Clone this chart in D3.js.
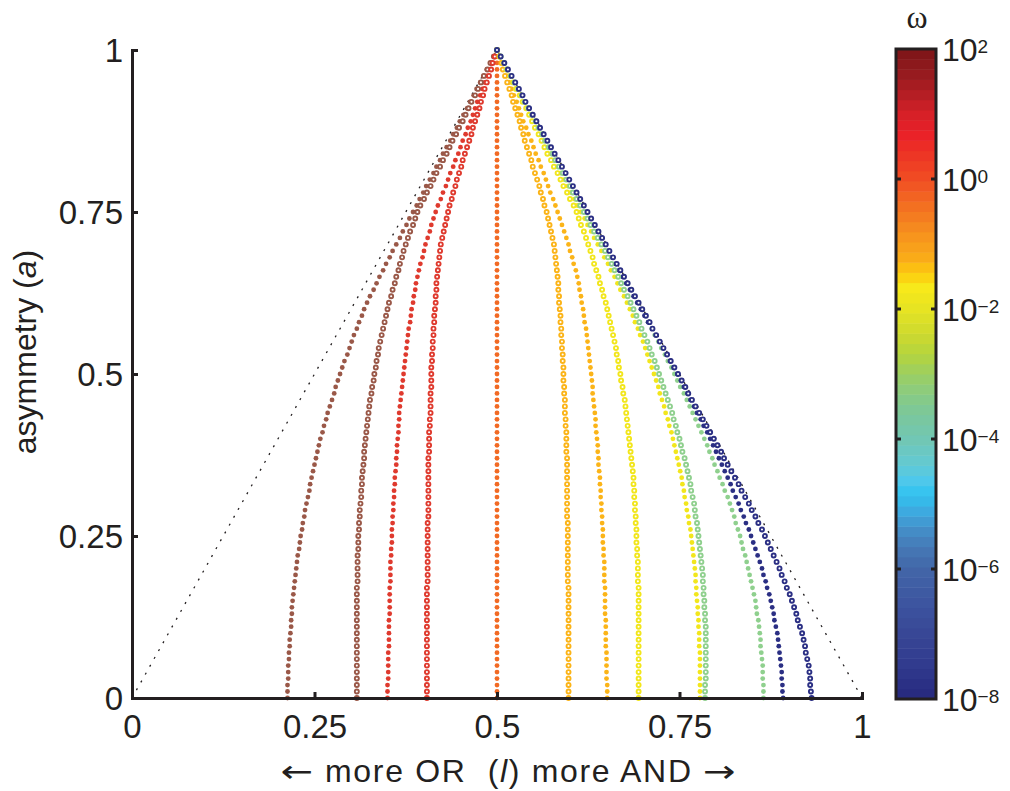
<!DOCTYPE html>
<html>
<head>
<meta charset="utf-8">
<script src="https://cdn.jsdelivr.net/npm/d3@7"></script>
<style>
  body { margin: 0; background: #fff; }
  svg { display: block; font-family: "Liberation Sans", Arial, Helvetica, sans-serif; }
  text { fill: #231f20; }
</style>
</head>
<body>
<svg id="chart" width="1010" height="791"></svg>
<script>
// asymmetry levels shared by every curve
const aLevels = [0,.01,.02,.03,.04,.05,.06,.07,.08,.09,.1,.11,.12,.13,.14,.15,.16,.17,.18,.19,.2,.21,.22,.23,.24,.25,.26,.27,.28,.29,.3,.31,.32,.33,.34,.35,.36,.37,.38,.39,.4,.41,.42,.43,.44,.45,.46,.47,.48,.49,.5,.51,.52,.53,.54,.55,.56,.57,.58,.59,.6,.61,.62,.63,.64,.65,.66,.67,.68,.69,.7,.71,.72,.73,.74,.75,.76,.77,.78,.79,.8,.81,.82,.83,.84,.85,.86,.87,.88,.89,.9,.91,.92,.93,.94,.95,.96,.97,.98,.99,1];

// logic value l for each asymmetry level, filled markers
const w2Filled = [.213,.213,.213,.214,.214,.214,.215,.215,.216,.216,.217,.218,.218,.219,.219,.220,.221,.222,.223,.224,.225,.226,.227,.229,.230,.231,.233,.234,.236,.237,.239,.241,.243,.244,.246,.248,.250,.252,.254,.256,.258,.261,.263,.266,.268,.271,.274,.277,.279,.282,.285,.288,.291,.295,.298,.301,.304,.308,.311,.315,.318,.322,.326,.331,.335,.339,.344,.348,.353,.357,.362,.367,.371,.376,.380,.385,.390,.394,.399,.403,.408,.413,.417,.422,.426,.431,.436,.440,.445,.449,.454,.459,.463,.468,.472,.477,.482,.486,.491,.495,.500];
const w1Filled = [.350,.350,.350,.351,.351,.351,.351,.351,.352,.352,.352,.352,.352,.353,.353,.353,.353,.353,.354,.354,.354,.354,.355,.355,.356,.356,.356,.357,.357,.358,.358,.359,.359,.360,.360,.361,.362,.362,.363,.363,.364,.365,.365,.366,.366,.367,.368,.369,.370,.371,.372,.373,.374,.375,.376,.377,.378,.379,.381,.382,.383,.385,.386,.388,.389,.391,.393,.395,.398,.400,.402,.405,.408,.410,.413,.416,.419,.423,.426,.430,.433,.436,.440,.443,.447,.450,.453,.457,.460,.464,.467,.470,.473,.477,.480,.483,.486,.490,.493,.497,.500];
const w0Filled = [.5,.5,.5,.5,.5,.5,.5,.5,.5,.5,.5,.5,.5,.5,.5,.5,.5,.5,.5,.5,.5,.5,.5,.5,.5,.5,.5,.5,.5,.5,.5,.5,.5,.5,.5,.5,.5,.5,.5,.5,.5,.5,.5,.5,.5,.5,.5,.5,.5,.5,.5,.5,.5,.5,.5,.5,.5,.5,.5,.5,.5,.5,.5,.5,.5,.5,.5,.5,.5,.5,.5,.5,.5,.5,.5,.5,.5,.5,.5,.5,.5,.5,.5,.5,.5,.5,.5,.5,.5,.5,.5,.5,.5,.5,.5,.5,.5,.5,.5,.5,.5];
const wm1Filled = [.651,.651,.651,.650,.650,.650,.650,.650,.649,.649,.649,.649,.649,.648,.648,.648,.648,.648,.647,.647,.647,.647,.646,.646,.645,.645,.645,.644,.644,.643,.643,.642,.642,.641,.641,.640,.639,.639,.638,.638,.637,.636,.635,.635,.634,.633,.632,.631,.631,.630,.629,.628,.627,.626,.625,.624,.623,.622,.620,.619,.618,.616,.615,.613,.612,.610,.608,.605,.603,.600,.598,.595,.592,.589,.586,.583,.580,.577,.573,.570,.567,.564,.560,.557,.553,.550,.547,.543,.540,.536,.533,.530,.527,.523,.520,.517,.514,.510,.507,.503,.500];
const wm2Filled = [.778,.778,.778,.778,.778,.778,.778,.778,.777,.777,.777,.776,.776,.775,.775,.774,.773,.773,.772,.772,.771,.770,.769,.768,.767,.766,.765,.763,.762,.760,.759,.757,.756,.754,.753,.751,.749,.747,.745,.743,.741,.739,.736,.734,.731,.729,.726,.723,.721,.718,.715,.712,.709,.706,.703,.700,.696,.693,.689,.686,.682,.678,.674,.669,.665,.661,.656,.652,.647,.643,.638,.633,.629,.624,.620,.615,.610,.606,.601,.597,.592,.587,.583,.578,.574,.569,.564,.560,.555,.551,.546,.541,.537,.532,.528,.523,.518,.514,.509,.505,.500];
const wm3Filled = [.865,.865,.865,.864,.864,.864,.863,.862,.861,.861,.860,.859,.858,.856,.855,.854,.852,.850,.848,.846,.844,.842,.840,.837,.835,.833,.830,.827,.825,.822,.819,.816,.812,.809,.805,.802,.798,.795,.791,.788,.784,.780,.776,.772,.768,.764,.760,.756,.751,.747,.743,.739,.734,.730,.725,.721,.716,.712,.707,.703,.698,.693,.688,.684,.679,.674,.669,.664,.658,.653,.648,.643,.638,.633,.628,.623,.618,.613,.608,.603,.598,.593,.588,.583,.578,.573,.568,.563,.559,.554,.549,.544,.539,.534,.529,.524,.519,.514,.510,.505,.500];
const wm8Filled = [.892,.891,.891,.890,.890,.889,.888,.887,.886,.885,.884,.882,.880,.879,.877,.875,.873,.870,.868,.865,.863,.860,.857,.854,.851,.848,.845,.841,.838,.834,.831,.827,.823,.820,.816,.812,.808,.804,.800,.796,.792,.788,.783,.779,.774,.770,.765,.761,.756,.752,.747,.742,.737,.733,.728,.723,.718,.713,.707,.702,.697,.692,.687,.682,.677,.672,.667,.662,.657,.652,.647,.642,.637,.632,.627,.622,.617,.612,.607,.602,.597,.592,.587,.582,.577,.572,.567,.562,.557,.552,.547,.542,.537,.532,.527,.522,.518,.513,.509,.504,.500];

// ring markers
const w2Ring = [.308,.308,.308,.308,.308,.308,.308,.308,.308,.308,.308,.308,.308,.308,.308,.308,.308,.308,.309,.309,.309,.309,.309,.310,.310,.310,.311,.311,.312,.312,.313,.314,.314,.315,.315,.316,.317,.318,.318,.319,.320,.321,.322,.323,.324,.325,.326,.328,.329,.331,.332,.334,.335,.337,.338,.340,.342,.344,.346,.348,.350,.352,.355,.357,.360,.362,.365,.367,.370,.372,.375,.378,.381,.385,.388,.391,.395,.400,.404,.409,.413,.417,.422,.426,.431,.435,.439,.444,.448,.453,.457,.461,.465,.470,.474,.478,.482,.487,.491,.496,.500];
const w1Ring = [.404,.404,.404,.404,.404,.404,.404,.404,.404,.404,.404,.404,.404,.404,.404,.404,.404,.404,.405,.405,.405,.405,.405,.405,.405,.405,.405,.405,.406,.406,.406,.406,.406,.406,.406,.406,.406,.406,.407,.407,.407,.407,.408,.408,.409,.409,.409,.409,.410,.410,.410,.410,.411,.411,.412,.412,.413,.413,.414,.414,.415,.416,.416,.417,.417,.418,.419,.420,.421,.422,.423,.425,.427,.429,.431,.433,.435,.438,.440,.443,.445,.448,.451,.453,.456,.459,.462,.465,.467,.470,.473,.476,.478,.481,.483,.486,.489,.492,.494,.497,.500];
const wm1Ring = [.598,.598,.598,.598,.598,.598,.598,.598,.598,.598,.598,.598,.598,.598,.598,.598,.598,.598,.597,.597,.597,.597,.597,.597,.597,.597,.597,.597,.596,.596,.596,.596,.596,.596,.596,.596,.596,.596,.595,.595,.595,.595,.594,.594,.593,.593,.593,.592,.592,.591,.591,.591,.590,.590,.589,.589,.588,.588,.587,.587,.586,.585,.585,.584,.584,.583,.582,.581,.580,.579,.578,.576,.574,.572,.570,.568,.565,.563,.560,.558,.555,.552,.549,.547,.544,.541,.538,.536,.533,.531,.528,.525,.522,.520,.517,.514,.511,.508,.506,.503,.500];
const wm2Ring = [.694,.694,.694,.694,.694,.694,.694,.694,.694,.694,.694,.694,.694,.694,.694,.694,.694,.694,.693,.693,.693,.693,.692,.692,.691,.691,.691,.690,.690,.689,.689,.688,.688,.687,.687,.686,.685,.684,.683,.682,.681,.680,.679,.678,.677,.676,.675,.673,.672,.670,.669,.667,.666,.664,.663,.661,.659,.657,.655,.653,.651,.649,.646,.644,.641,.639,.636,.633,.631,.628,.625,.622,.619,.615,.612,.609,.605,.600,.596,.591,.587,.583,.578,.574,.569,.565,.561,.557,.552,.548,.544,.540,.535,.531,.526,.522,.518,.513,.509,.504,.500];
const wm3Ring = [.785,.785,.785,.786,.786,.786,.786,.786,.786,.786,.786,.786,.785,.785,.784,.784,.783,.783,.782,.782,.781,.780,.779,.778,.777,.776,.775,.774,.772,.771,.770,.768,.766,.765,.763,.761,.759,.757,.754,.752,.750,.747,.745,.742,.740,.737,.734,.731,.728,.725,.722,.719,.716,.712,.709,.706,.702,.698,.695,.691,.687,.683,.679,.674,.670,.666,.661,.657,.652,.648,.643,.638,.633,.628,.624,.619,.614,.609,.604,.600,.595,.590,.585,.580,.576,.571,.566,.562,.557,.553,.548,.543,.538,.534,.529,.524,.519,.514,.510,.505,.500];
const wm8Ring = [.931,.930,.929,.929,.928,.927,.925,.923,.922,.920,.918,.915,.912,.910,.907,.904,.901,.897,.894,.890,.887,.883,.879,.875,.871,.867,.863,.858,.854,.849,.845,.840,.835,.831,.826,.821,.816,.811,.807,.802,.797,.792,.787,.782,.777,.772,.767,.762,.758,.753,.748,.743,.738,.733,.728,.723,.718,.713,.709,.704,.699,.694,.689,.684,.679,.674,.669,.664,.659,.654,.649,.644,.639,.634,.629,.624,.619,.614,.609,.604,.599,.594,.589,.584,.579,.574,.569,.564,.559,.554,.549,.544,.539,.535,.530,.525,.520,.515,.510,.505,.500];

// triangle of attainable (l, a)
const triangleL = [0, 0.5, 1];
const triangleA = [0, 1, 0];

const xTicks = [0, 0.25, 0.5, 0.75, 1];
const yTicks = [0, 0.25, 0.5, 0.75, 1];
const omegaTicks = [1e2, 1e0, 1e-2, 1e-4, 1e-6, 1e-8];

// colour bar stops (log10 omega -> colour)
const cmapLog = [2, 1.6, 1.3, 1, 0.7, 0.3, 0, -0.3, -0.6, -0.9, -1.2, -1.45, -1.65, -2, -2.4, -2.7, -3, -3.3, -3.6, -4, -4.4, -4.65, -4.85, -5.15, -5.45, -5.75, -6, -6.5, -7, -7.5, -8];
const cmapHex = ["#7b1518", "#981b1f", "#b51e24", "#d62027", "#ea2028", "#ee3a24", "#f04d23", "#f26622", "#f47e20", "#f7961d", "#faab18", "#fdca0e", "#f8e91a", "#e6e422", "#ccd930", "#b4d43e", "#9ccf62", "#8acb82", "#7bc79a", "#72c7b4", "#62c9d4", "#4dc8ec", "#31c3f0", "#3fa6dd", "#4589c4", "#4574b2", "#4265a8", "#3d55a0", "#384796", "#303a8d", "#27287e"];

// marker colours by omega
const dotColor = {
  w2: "#9a5848", w1: "#df3a2e", w0: "#f26a24", wm1: "#fbb418",
  wm2: "#f2e61c", wm3: "#8fd08e", wm8: "#2b2f84"
};

const series = [
  { key: "w2", l: w2Filled, ring: false },
  { key: "w1", l: w1Filled, ring: false },
  { key: "w0", l: w0Filled, ring: false },
  { key: "wm1", l: wm1Filled, ring: false },
  { key: "wm2", l: wm2Filled, ring: false },
  { key: "wm3", l: wm3Filled, ring: false },
  { key: "wm8", l: wm8Filled, ring: false },
  { key: "w2", l: w2Ring, ring: true },
  { key: "w1", l: w1Ring, ring: true },
  { key: "wm1", l: wm1Ring, ring: true },
  { key: "wm2", l: wm2Ring, ring: true },
  { key: "wm3", l: wm3Ring, ring: true },
  { key: "wm8", l: wm8Ring, ring: true }
];

const ink = "#231f20";
const svg = d3.select("#chart");

const x = d3.scaleLinear().domain([0, 1]).range([132, 862]);
const y = d3.scaleLinear().domain([0, 1]).range([698, 50]);

// dotted triangle
svg.append("path")
  .datum(triangleL.map((l, i) => [l, triangleA[i]]))
  .attr("d", d3.line().x(d => x(d[0])).y(d => y(d[1])))
  .attr("fill", "none")
  .attr("stroke", ink)
  .attr("stroke-width", 1.3)
  .attr("stroke-dasharray", "2,7");

// curves of dots
const dots = svg.append("g");
series.forEach(s => {
  const pts = s.l.map((l, i) => ({ l: l, a: aLevels[i] }));
  dots.append("g")
    .selectAll("circle")
    .data(pts)
    .join("circle")
    .attr("cx", d => x(d.l))
    .attr("cy", d => y(d.a))
    .attr("r", s.ring ? 2.0 : 2.4)
    .attr("fill", s.ring ? "#fff" : dotColor[s.key])
    .attr("stroke", s.ring ? dotColor[s.key] : "none")
    .attr("stroke-width", s.ring ? 1.9 : 0);
});

// axes
const fmt = d => String(d);

const gx = svg.append("g")
  .attr("transform", "translate(0,698)")
  .call(d3.axisBottom(x).tickValues(xTicks).tickSize(-6).tickPadding(0).tickFormat(fmt));

const gy = svg.append("g")
  .attr("transform", "translate(132,0)")
  .call(d3.axisLeft(y).tickValues(yTicks).tickSize(-6).tickPadding(9).tickFormat(fmt));

[gx, gy].forEach(g => {
  g.attr("font-family", null).attr("font-size", null);
  g.select(".domain").attr("stroke", ink).attr("stroke-width", 3);
  g.selectAll(".tick line").attr("stroke", ink).attr("stroke-width", 3);
  g.selectAll(".tick text").attr("fill", ink).style("font-size", "33px");
});
gx.selectAll(".tick text").attr("y", 40).attr("dy", null);
gy.selectAll(".tick text").attr("dy", "0.36em");

// axis titles
const xt = svg.append("text")
  .attr("x", 508)
  .attr("y", 782)
  .attr("text-anchor", "middle")
  .attr("textLength", 366)
  .attr("lengthAdjust", "spacing")
  .style("font-size", "32px")
  .style("white-space", "pre");
xt.append("tspan").text("more OR  (");
xt.append("tspan").style("font-style", "italic").text("l");
xt.append("tspan").text(") more AND");

[["\u2190", 297], ["\u2192", 719]].forEach(([ch, cx]) => {
  svg.append("text")
    .attr("transform", `translate(${cx},782) scale(1.25,1)`)
    .attr("text-anchor", "middle")
    .style("font-family", "'DejaVu Sans', sans-serif")
    .style("font-size", "31px")
    .text(ch);
});

const yt = svg.append("text")
  .attr("transform", "translate(36,352) rotate(-90)")
  .attr("text-anchor", "middle")
  .style("font-size", "32px");
yt.append("tspan").text("asymmetry (");
yt.append("tspan").style("font-style", "italic").text("a");
yt.append("tspan").text(")");

// colour bar
const cb = d3.scaleLog().domain([1e-8, 1e2]).range([699, 49]);
const cmap = d3.scaleLinear().domain(cmapLog).range(cmapHex);
const nBands = 64;
const cbX = 896, cbW = 40;
const band = svg.append("g");
d3.range(nBands).forEach(i => {
  const lo = -8 + 10 * i / nBands;
  const hi = -8 + 10 * (i + 1) / nBands;
  band.append("rect")
    .attr("x", cbX)
    .attr("y", cb(Math.pow(10, hi)))
    .attr("width", cbW)
    .attr("height", cb(Math.pow(10, lo)) - cb(Math.pow(10, hi)) + 0.5)
    .attr("fill", cmap((lo + hi) / 2));
});

svg.append("rect")
  .attr("x", cbX)
  .attr("y", 49)
  .attr("width", cbW)
  .attr("height", 650)
  .attr("fill", "none")
  .attr("stroke", ink)
  .attr("stroke-width", 3);

const cbTicks = svg.append("g");
omegaTicks.forEach(v => {
  const ty = cb(v);
  if (v < 1e2 && v > 1e-8) {
    cbTicks.append("line").attr("x1", cbX).attr("x2", cbX + 5).attr("y1", ty).attr("y2", ty)
      .attr("stroke", ink).attr("stroke-width", 3);
    cbTicks.append("line").attr("x1", cbX + cbW - 5).attr("x2", cbX + cbW).attr("y1", ty).attr("y2", ty)
      .attr("stroke", ink).attr("stroke-width", 3);
  }
  const e = Math.round(Math.log10(v));
  const t = cbTicks.append("text")
    .attr("x", 942)
    .attr("y", ty)
    .attr("dy", "0.36em")
    .style("font-size", "32px");
  t.append("tspan").text("10");
  t.append("tspan")
    .attr("dy", "-0.4em")
    .style("font-size", "19px")
    .text(String(e).replace("-", "\u2212"));
});

svg.append("text")
  .attr("x", 917)
  .attr("y", 28)
  .attr("text-anchor", "middle")
  .style("font-family", "'Liberation Serif', 'DejaVu Serif', serif")
  .style("font-size", "32px")
  .text("\u03c9");
</script>
</body>
</html>
